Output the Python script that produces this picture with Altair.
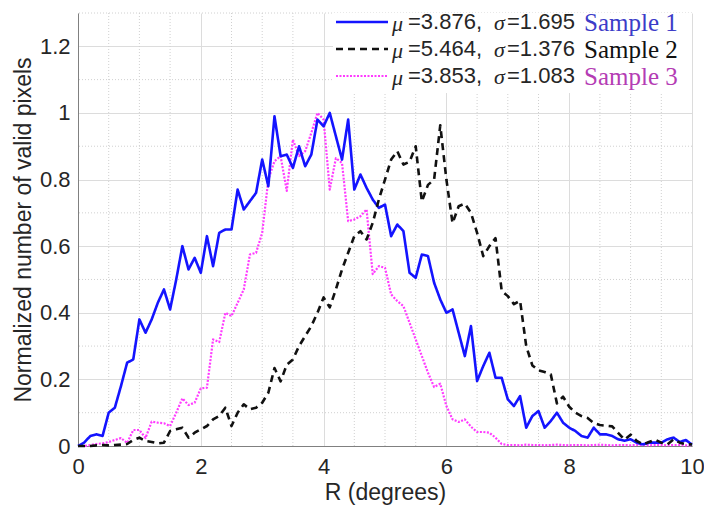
import altair as alt
import pandas as pd

# ---------------- data ----------------
R = [round(i * 0.1, 1) for i in range(101)]

sample1 = [0.00, 0.01, 0.03, 0.035, 0.03, 0.10, 0.115, 0.18, 0.25, 0.26,
           0.38, 0.34, 0.38, 0.43, 0.47, 0.41, 0.50, 0.60, 0.53, 0.565,
           0.52, 0.63, 0.54, 0.64, 0.65, 0.65, 0.77, 0.71, 0.735, 0.76,
           0.86, 0.78, 0.99, 0.87, 0.875, 0.835, 0.90, 0.84, 0.875, 0.98,
           0.96, 1.00, 0.93, 0.86, 0.98, 0.77, 0.815, 0.775, 0.74, 0.715,
           0.725, 0.63, 0.665, 0.645, 0.52, 0.505, 0.575, 0.57, 0.49, 0.44,
           0.40, 0.41, 0.34, 0.27, 0.36, 0.195, 0.24, 0.28, 0.205, 0.205,
           0.14, 0.12, 0.15, 0.055, 0.09, 0.105, 0.055, 0.075, 0.10, 0.07,
           0.055, 0.045, 0.03, 0.025, 0.055, 0.035, 0.035, 0.03, 0.02, 0.016,
           0.02, 0.01, 0.005, 0.01, 0.01, 0.01, 0.02, 0.025, 0.012, 0.018,
           0.004]

sample2 = [0.00, 0.00, 0.00, 0.002, 0.003, 0.002, 0.003, 0.004, 0.006, 0.018,
           0.025, 0.015, 0.012, 0.008, 0.01, 0.045, 0.05, 0.055, 0.025, 0.04,
           0.05, 0.06, 0.08, 0.09, 0.115, 0.06, 0.10, 0.125, 0.11, 0.115,
           0.13, 0.16, 0.234, 0.194, 0.244, 0.26, 0.30, 0.33, 0.36, 0.40,
           0.446, 0.416, 0.47, 0.53, 0.58, 0.63, 0.645, 0.62, 0.67, 0.74,
           0.80, 0.86, 0.885, 0.845, 0.853, 0.90, 0.734, 0.784, 0.80, 0.963,
           0.80, 0.669, 0.72, 0.728, 0.70, 0.64, 0.57, 0.60, 0.624, 0.466,
           0.45, 0.426, 0.436, 0.30, 0.242, 0.227, 0.222, 0.215, 0.128, 0.148,
           0.118, 0.10, 0.09, 0.084, 0.069, 0.063, 0.061, 0.059, 0.039, 0.019,
           0.034, 0.015, 0.005, 0.012, 0.019, 0.01, 0.005, 0.02, 0.01, 0.005,
           0.005]

sample3 = [0.00, 0.00, 0.003, 0.006, 0.008, 0.012, 0.018, 0.024, 0.009, 0.048,
           0.048, 0.024, 0.073, 0.07, 0.068, 0.06, 0.10, 0.143, 0.123, 0.13,
           0.173, 0.175, 0.32, 0.312, 0.40, 0.39, 0.43, 0.47, 0.575, 0.58,
           0.64, 0.80, 0.855, 0.87, 0.766, 0.92, 0.87, 0.885, 0.94, 1.00,
           0.98, 0.77, 0.864, 0.85, 0.675, 0.68, 0.69, 0.71, 0.516, 0.54,
           0.535, 0.455, 0.435, 0.42, 0.37, 0.32, 0.27, 0.22, 0.177, 0.187,
           0.12, 0.08, 0.072, 0.08, 0.058, 0.042, 0.042, 0.04, 0.025, 0.006,
           0.003, 0.003, 0.002, 0.004, 0.003, 0.003, 0.002, 0.003, 0.004, 0.003,
           0.002, 0.003, 0.003, 0.002, 0.003, 0.004, 0.003, 0.002, 0.003, 0.003,
           0.002, 0.003, 0.003, 0.002, 0.003, 0.003, 0.002, 0.003, 0.003, 0.002,
           0.002]

series_names = ["Sample 1", "Sample 2", "Sample 3"]
series_stats_mu = ["=3.876,", "=5.464,", "=3.853,"]
series_stats_sigma = ["=1.695", "=1.376", "=1.083"]

x_major = [0, 2, 4, 6, 8, 10]
x_minor = [0.5, 1, 1.5, 2.5, 3, 3.5, 4.5, 5, 5.5, 6.5, 7, 7.5, 8.5, 9, 9.5]
y_major = [0, 0.2, 0.4, 0.6, 0.8, 1.0, 1.2]
y_minor = [0.1, 0.3, 0.5, 0.7, 0.9, 1.1, 1.3]

# ---------------- styles ----------------
line_colors = ["#1414ff", "#111111", "#ff3cff"]
text_colors = ["#3c3cc8", "#111111", "#b43cb4"]
dashes = [[1, 0], [7, 5], [2, 1.5]]
widths = [2.6, 2.6, 2.2]

W, H = 614, 433
axis_color = "#262626"

df = pd.DataFrame({
    "R": R * 3,
    "value": sample1 + sample2 + sample3,
    "sample": [series_names[0]] * len(R) + [series_names[1]] * len(R) + [series_names[2]] * len(R),
})

xs = alt.Scale(domain=[0, 10], nice=False, zero=False)
ys = alt.Scale(domain=[0, 1.3], nice=False, zero=False)
x_axis = alt.Axis(values=x_major, title="R (degrees)", format=".2~f", grid=True,
                  labelFlush=False)
y_axis = alt.Axis(values=y_major, title="Normalized number of valid pixels",
                  format=".2~f", grid=True, labelFlush=False)

grid_x = alt.Chart(pd.DataFrame({"g": x_minor})).mark_rule(
    color="#d0d0d0", strokeDash=[1, 2], strokeWidth=1
).encode(x=alt.X("g:Q", scale=xs, axis=x_axis))
grid_y = alt.Chart(pd.DataFrame({"g": y_minor})).mark_rule(
    color="#d0d0d0", strokeDash=[1, 2], strokeWidth=1
).encode(y=alt.Y("g:Q", scale=ys, axis=y_axis))

layers = [grid_x, grid_y]

draw_order = [2, 0, 1]
for i in draw_order:
    name = series_names[i]
    layers.append(
        alt.Chart(df).transform_filter(alt.datum.sample == name).mark_line(
            color=line_colors[i], strokeDash=dashes[i], strokeWidth=widths[i],
            strokeJoin="round"
        ).encode(
            x=alt.X("R:Q", scale=xs, axis=x_axis),
            y=alt.Y("value:Q", scale=ys, axis=y_axis),
        )
    )

# legend box
one = pd.DataFrame({"a": [0]})
layers.append(
    alt.Chart(one).mark_rect(fill="white").encode(
        x=alt.value(255), x2=alt.value(W), y=alt.value(0), y2=alt.value(80)
    )
)
row_y = [9, 36, 63]
for i in range(3):
    yy = row_y[i]
    layers.append(alt.Chart(one).mark_rule(
        color=line_colors[i], strokeDash=dashes[i], strokeWidth=widths[i]
    ).encode(x=alt.value(258), x2=alt.value(310), y=alt.value(yy)))
    layers.append(alt.Chart(one).mark_text(
        text="\u03bc", font="Liberation Serif", fontStyle="italic", fontSize=22,
        color=axis_color, align="left", baseline="middle"
    ).encode(x=alt.value(314), y=alt.value(yy + 2)))
    layers.append(alt.Chart(one).mark_text(
        text=series_stats_mu[i], font="Liberation Sans", fontSize=22,
        color=axis_color, align="left", baseline="middle"
    ).encode(x=alt.value(330), y=alt.value(yy)))
    layers.append(alt.Chart(one).mark_text(
        text="\u03c3", font="Liberation Serif", fontStyle="italic", fontSize=22,
        color=axis_color, align="left", baseline="middle"
    ).encode(x=alt.value(416), y=alt.value(yy + 1)))
    layers.append(alt.Chart(one).mark_text(
        text=series_stats_sigma[i], font="Liberation Sans", fontSize=22,
        color=axis_color, align="left", baseline="middle"
    ).encode(x=alt.value(429), y=alt.value(yy)))
    layers.append(alt.Chart(one).mark_text(
        text=series_names[i], font="Liberation Serif", fontSize=25,
        color=text_colors[i], align="left", baseline="middle"
    ).encode(x=alt.value(506), y=alt.value(yy + 1)))

chart = alt.layer(*layers).properties(
    width=W, height=H,
    autosize=alt.AutoSizeParams(type="none"),
    padding={"left": 70, "top": 5, "right": 12, "bottom": 65},
    background="white",
).configure_view(stroke=None).configure_axis(
    labelFont="Liberation Sans", titleFont="Liberation Sans",
    labelFontSize=22, titleFontSize=23, labelColor=axis_color, titleColor=axis_color,
    titleFontWeight="normal", domainColor="#808080", domainWidth=1,
    ticks=False, gridColor="#dcdcdc", gridWidth=1,
).configure_axisX(labelPadding=10, titlePadding=4).configure_axisY(
    labelPadding=8, titlePadding=4
)

chart.save("out.html", embed_options={"renderer": "svg", "actions": False})
